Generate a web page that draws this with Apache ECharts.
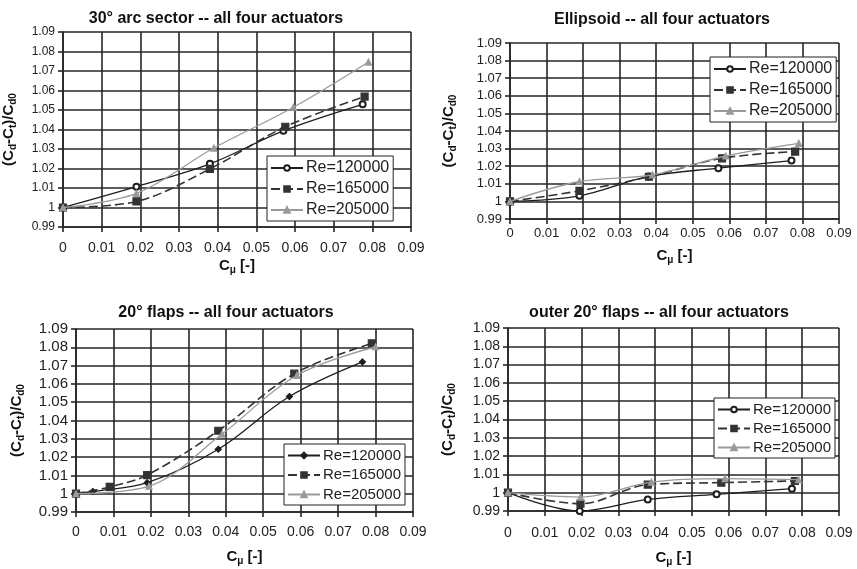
<!DOCTYPE html>
<html>
<head>
<meta charset="utf-8">
<script src="https://cdn.jsdelivr.net/npm/echarts@6/dist/echarts.min.js"></script>
<style>html,body{margin:0;padding:0;background:#fff}#c{width:857px;height:569px}</style>
</head>
<body>
<div id="c"></div>
<script>
// ---- data ----
const titles = ['30° arc sector -- all four actuators', 'Ellipsoid -- all four actuators',
  '20° flaps -- all four actuators', 'outer 20° flaps -- all four actuators'];
const seriesNames = ['Re=120000', 'Re=165000', 'Re=205000'];
const xMin = 0, xMax = 0.09, xStep = 0.01;
const yMin = 0.99, yMax = 1.09, yStep = 0.01;

const arc120 = [[0,1.000],[0.019,1.0107],[0.038,1.0224],[0.057,1.0393],[0.0775,1.0529]];
const arc165 = [[0,1.000],[0.019,1.0031],[0.038,1.0198],[0.0575,1.0414],[0.078,1.0569]];
const arc205 = [[0,1.000],[0.019,1.0072],[0.039,1.0305],[0.0596,1.0514],[0.079,1.0746]];

const ell120 = [[0,1.000],[0.019,1.0032],[0.038,1.0142],[0.057,1.0189],[0.077,1.0232]];
const ell165 = [[0,1.000],[0.019,1.006],[0.038,1.014],[0.058,1.0245],[0.078,1.0283]];
const ell205 = [[0,1.000],[0.019,1.0113],[0.039,1.0151],[0.059,1.0258],[0.079,1.033]];

const flap120 = [[0,1.000],[0.0045,1.0012],[0.019,1.006],[0.038,1.0243],[0.057,1.0531],[0.0765,1.072]];
const flap165 = [[0,1.000],[0.009,1.0037],[0.019,1.0102],[0.038,1.0344],[0.0583,1.0656],[0.079,1.0821]];
const flap205 = [[0,1.000],[0.0195,1.0041],[0.039,1.0326],[0.059,1.0647],[0.080,1.0803]];

const out120 = [[0,1.000],[0.0195,0.990],[0.038,0.9963],[0.0567,0.9991],[0.0772,1.0022]];
const out165 = [[0,1.000],[0.0197,0.994],[0.038,1.0044],[0.058,1.0055],[0.078,1.0064]];
const out205 = [[0,1.000],[0.0197,0.9976],[0.039,1.0058],[0.059,1.0077],[0.079,1.0071]];

const panelData = [[arc120, arc165, arc205], [ell120, ell165, ell205],
  [flap120, flap165, flap205], [out120, out165, out205]];

// ---- layout ----
const grids = [
  {left: 63, top: 32, width: 348, height: 195},
  {left: 510, top: 43, width: 329, height: 176},
  {left: 76, top: 329, width: 337, height: 183},
  {left: 508, top: 328, width: 331, height: 183}
];
const titlePos = [[211, 6], [657, 7], [221, 300], [654, 300]];
const yLabelSize = [12, 13, 15, 14];
const xLabelSize = [14, 13, 14, 14];
const xLabelMargin = [14, 8, 13, 15];
const yNameGap = [45, 52, 50, 51];
const xNameGap = [30, 28, 36, 38];
const legendPos = [
  {left: 267, top: 156, w: 120, pitch: 5},
  {left: 710, top: 57, w: 118, pitch: 5},
  {left: 284, top: 444, w: 116, pitch: 4.5},
  {left: 714, top: 398, w: 119, pitch: 4}
];
const legendFont = [16, 16, 15, 15];

const FONT = 'Liberation Sans, Arial, sans-serif';
const gridColor = '#262626';

const yName = '{n|(C}{s|d}{n|-C}{s|t}{n|)/C}{s|d0}';
const xName = '{n|C}{s|μ}{n| [-]}';
const nameRich = {
  n: {fontSize: 15, fontWeight: 'bold', fontFamily: FONT, color: '#111', lineHeight: 18},
  s: {fontSize: 10, fontWeight: 'bold', fontFamily: FONT, color: '#111', lineHeight: 12, verticalAlign: 'bottom'}
};

const fmt = v => String(+(+v).toFixed(2));

const option = {
  backgroundColor: '#fff',
  animation: false,
  title: titles.map((t, i) => ({
    text: t, left: titlePos[i][0], top: titlePos[i][1], textAlign: 'center',
    textStyle: {fontSize: 16, fontWeight: 'bold', fontFamily: FONT, color: '#111'}
  })),
  grid: grids.map(g => Object.assign({containLabel: false}, g)),
  xAxis: grids.map((g, i) => ({
    type: 'value', gridIndex: i, min: xMin, max: xMax, interval: xStep,
    name: xName, nameLocation: 'middle', nameGap: xNameGap[i],
    nameTextStyle: {rich: nameRich},
    axisLine: {show: true, onZero: false, lineStyle: {color: gridColor, width: 1.6}},
    axisTick: {show: true, length: 5, lineStyle: {color: gridColor, width: 1.6}},
    splitLine: {show: true, lineStyle: {color: gridColor, width: 1.6}},
    axisLabel: {fontSize: xLabelSize[i], fontFamily: FONT, color: '#222', margin: xLabelMargin[i], formatter: fmt}
  })),
  yAxis: grids.map((g, i) => ({
    type: 'value', gridIndex: i, min: yMin, max: yMax, interval: yStep,
    name: yName, nameLocation: 'middle', nameGap: yNameGap[i], nameRotate: 90,
    nameTextStyle: {rich: nameRich},
    axisLine: {show: true, onZero: false, lineStyle: {color: gridColor, width: 1.6}},
    axisTick: {show: true, length: 5, lineStyle: {color: gridColor, width: 1.6}},
    splitLine: {show: true, lineStyle: {color: gridColor, width: 1.6}},
    axisLabel: {fontSize: yLabelSize[i], fontFamily: FONT, color: '#222', margin: 8, formatter: fmt}
  })),
  legend: legendPos.map((p, i) => ({
    orient: 'vertical', left: p.left, top: p.top, width: p.w,
    data: seriesNames.map(n => n + '\u200b'.repeat(i)),
    backgroundColor: '#fff', borderColor: '#222', borderWidth: 1, borderRadius: 0,
    padding: [4, 4, 3, 3], itemGap: p.pitch, itemWidth: 32, itemHeight: 7,
    selectedMode: false,
    textStyle: {fontSize: legendFont[i], fontFamily: FONT, color: '#222', padding: [0, 0, 0, -2]}
  })),
  series: []
};

const styles = [
  {color: '#1e1e1e', type: 'solid', width: 1.3, symbol: 'emptyCircle', size: 6},
  {color: '#333333', type: [9, 4], width: 1.6, symbol: 'rect', size: 7},
  {color: '#9a9a9a', type: 'solid', width: 1.3, symbol: 'triangle', size: 6}
];

panelData.forEach((set, p) => {
  set.forEach((data, k) => {
    const st = styles[k];
    let sym = st.symbol, size = st.size;
    if (p === 2 && k === 0) { sym = 'diamond'; size = 6; }
    option.series.push({
      type: 'line', name: seriesNames[k] + '\u200b'.repeat(p),
      xAxisIndex: p, yAxisIndex: p, data: data,
      smooth: 0.35, clip: true,
      symbol: sym, symbolSize: size, showAllSymbol: true,
      lineStyle: {color: st.color, type: st.type, width: st.width},
      itemStyle: {color: st.color, borderColor: st.color, borderWidth: 1.2},
      z: 3 + k
    });
  });
});

const chart = echarts.init(document.getElementById('c'), null, {renderer: 'canvas'});
chart.setOption(option);
</script>
</body>
</html>
